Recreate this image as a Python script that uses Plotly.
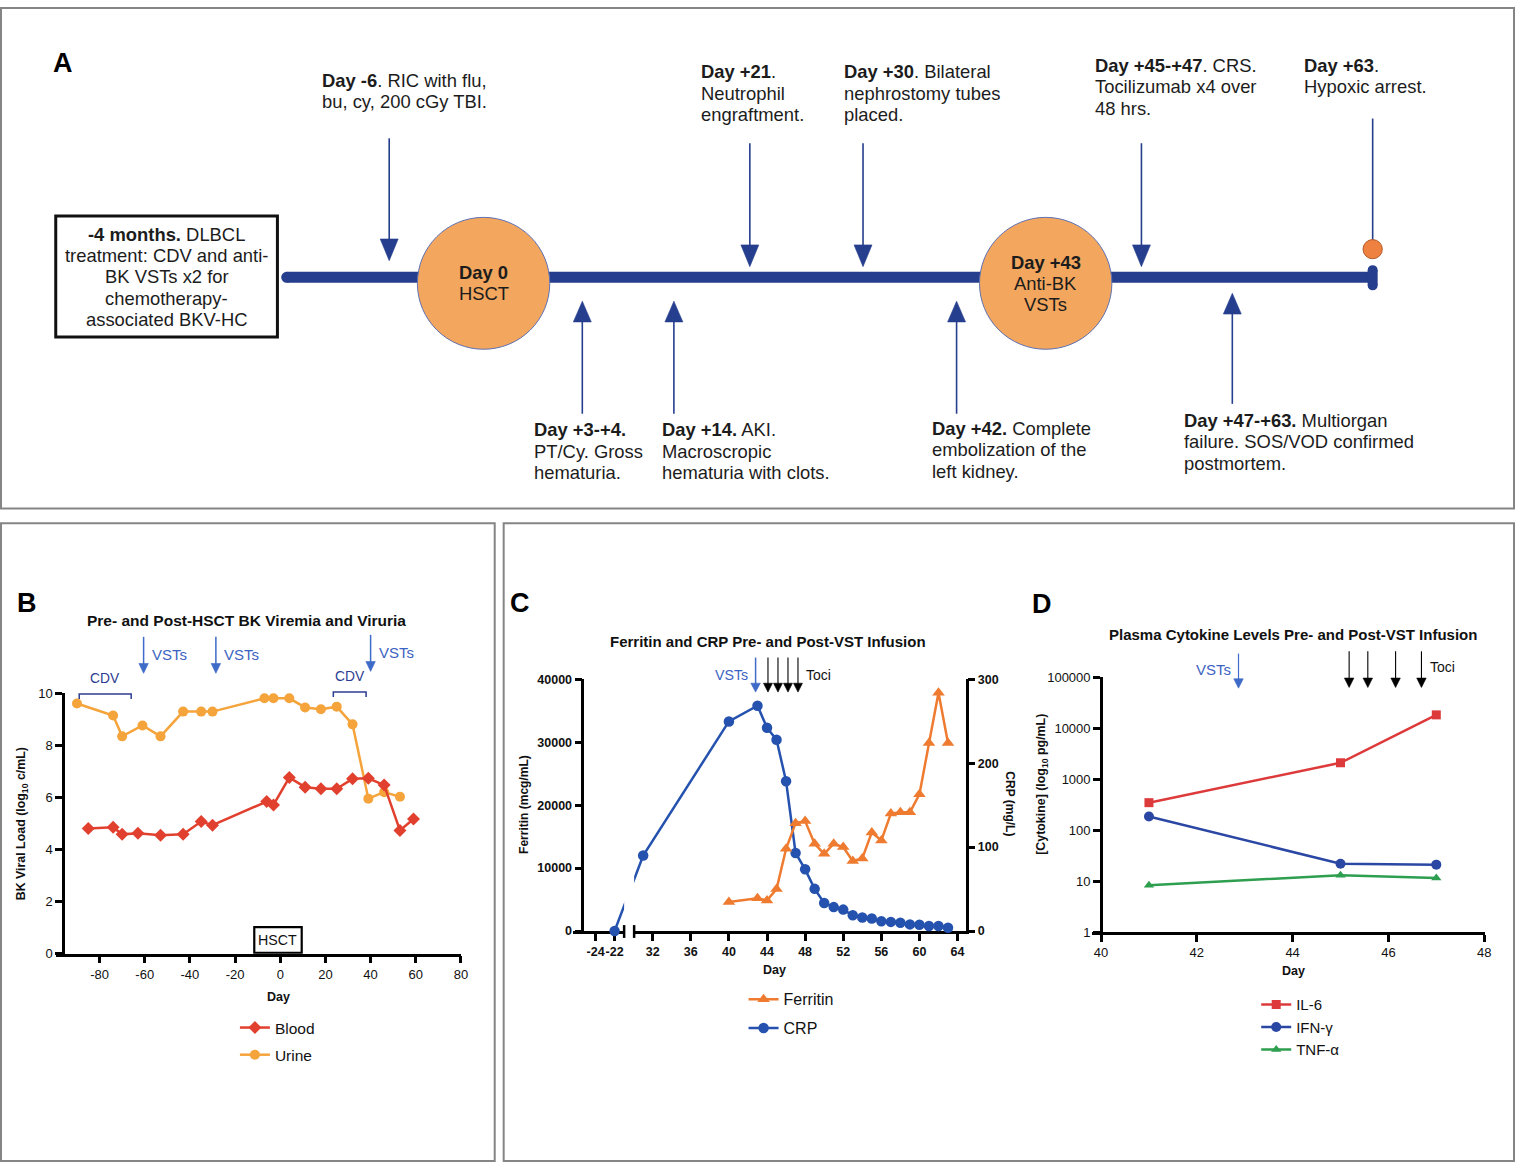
import plotly.graph_objects as go

W, H = 1524, 1171
FONT = "Liberation Sans, Arial, Helvetica, sans-serif"
NAVY = "#253e8d"
TXT = "#1c1c1c"

# ---------------- Panel B data: BK viral load (log10 c/mL) ----------------
b_urine_day = [-90, -74, -70, -61, -53, -43, -35, -30, -7, -3, 4, 11, 18, 25, 32, 39, 46, 53]
b_urine_log = [9.60, 9.14, 8.34, 8.76, 8.34, 9.29, 9.29, 9.29, 9.80, 9.80, 9.80, 9.45, 9.38, 9.48, 8.80, 5.95, 6.20, 6.02]
b_blood_day = [-85, -74, -70, -63, -53, -43, -35, -30, -6, -3, 4, 11, 18, 25, 32, 39, 46, 53, 59]
b_blood_log = [4.80, 4.85, 4.58, 4.62, 4.55, 4.58, 5.07, 4.93, 5.84, 5.71, 6.76, 6.39, 6.33, 6.33, 6.71, 6.73, 6.47, 4.73, 5.17]
b_vst_days = [-60.5, -28.5, 40]
b_cdv_ranges = [(-89, -66), (23.5, 38)]
b_hsct_range = (-11.5, 9.5)
b_xticks = [-80, -60, -40, -20, 0, 20, 40, 60, 80]
b_yticks = [0, 2, 4, 6, 8, 10]

# ---------------- Panel C data ----------------
c_blue_day = [-22, 31, 40, 43, 44, 45, 46, 47, 48, 49, 50, 51, 52, 53, 54, 55, 56, 57, 58, 59, 60, 61, 62, 63]
c_blue_val = [0, 12000, 33300, 35800, 32300, 30400, 23800, 12400, 9800, 6700, 4450, 3800, 3400, 2500,
              2150, 2000, 1550, 1450, 1300, 1050, 1000, 800, 800, 520]
c_orange_day = [40, 43, 44, 45, 46, 47, 48, 49, 50, 51, 52, 53, 54, 55, 56, 57, 58, 59, 60, 61, 62, 63]
c_orange_val = [34.5, 39, 36.5, 50, 98, 128.5, 131, 104, 92, 104, 100, 83.5, 86.5, 117.5, 108,
                140, 141.5, 141.5, 163, 224, 284, 224]
c_break_shift = 50          # days before the axis break are shifted onto the compressed segment
c_xticks_left = [-24, -22]
c_xticks_right = [32, 36, 40, 44, 48, 52, 56, 60, 64]
c_yticks_left = [0, 10000, 20000, 30000, 40000]
c_yticks_right = [0, 100, 200, 300]
c_vst_day = 42.8
c_toci_days = [44.1, 45.15, 46.2, 47.25]

# ---------------- Panel D data: plasma cytokines (pg/mL) ----------------
d_day = [41, 45, 47]
d_il6 = [346, 2100, 18300]
d_ifng = [185, 21.9, 21]
d_tnfa = [8.3, 13, 11.5]
d_vst_day = 42.87
d_toci_days = [45.18, 45.57, 46.15, 46.69]
d_yticks = [1, 10, 100, 1000, 10000, 100000]
d_xticks = [40, 42, 44, 46, 48]

# ---------------- Panel A text ----------------
a_box_lines = ["<b>-4 months.</b> DLBCL", "treatment: CDV and anti-", "BK VSTs x2 for",
               "chemotherapy-", "associated BKV-HC"]
a_circle_labels = [["<b>Day 0</b>", "HSCT"], ["<b>Day +43</b>", "Anti-BK", "VSTs"]]
a_top_events = [
    ["<b>Day -6</b>. RIC with flu,", "bu, cy, 200 cGy TBI."],
    ["<b>Day +21</b>.", "Neutrophil", "engraftment."],
    ["<b>Day +30</b>. Bilateral", "nephrostomy tubes", "placed."],
    ["<b>Day +45-+47</b>. CRS.", "Tocilizumab x4 over", "48 hrs."],
    ["<b>Day +63</b>.", "Hypoxic arrest."],
]
a_bottom_events = [
    ["<b>Day +3-+4.</b>", "PT/Cy. Gross", "hematuria."],
    ["<b>Day +14.</b> AKI.", "Macroscropic", "hematuria with clots."],
    ["<b>Day +42.</b> Complete", "embolization of the", "left kidney."],
    ["<b>Day +47-+63.</b> Multiorgan", "failure. SOS/VOD confirmed", "postmortem."],
]

# ---------------- layout geometry (pixels) ----------------
B_X, B_PX, B_PY, B_YAX = (-99.4, 80.1), (56, 463.3), (959, 695), 63.3
C_X, C_PX, C_PY, C_YAX = (23.67, 64.84), (576, 970), (936, 681), 585
D_X, D_PX, D_PY, D_YAX = (39.81, 48.02), (1097, 1492), (937, 679), 1106


def fx(x):
    return x / W


def fy(y):
    return 1 - y / H


def lin(v, dom, pix):
    return pix[0] + (v - dom[0]) / (dom[1] - dom[0]) * (pix[1] - pix[0])


shapes = []
annotations = []


def add_text(x, y, text, size, color=TXT, xanchor="left", yanchor="middle", angle=0):
    annotations.append(dict(x=fx(x), y=fy(y), xref="paper", yref="paper", text=text, showarrow=False,
                            xanchor=xanchor, yanchor=yanchor, textangle=angle,
                            font=dict(family=FONT, size=size, color=color)))


def add_line(x0, y0, x1, y1, color, width):
    shapes.append(dict(type="line", xref="paper", yref="paper", x0=fx(x0), y0=fy(y0), x1=fx(x1), y1=fy(y1),
                       line=dict(color=color, width=width)))


def add_poly(pts, color):
    path = "M " + " L ".join(f"{fx(x):.6f},{fy(y):.6f}" for x, y in pts) + " Z"
    shapes.append(dict(type="path", xref="paper", yref="paper", path=path, fillcolor=color,
                       line=dict(color=color, width=0.6)))


def add_rect(x0, y0, x1, y1, line_color, width, fill="rgba(0,0,0,0)"):
    shapes.append(dict(type="rect", xref="paper", yref="paper", x0=fx(x0), y0=fy(y1), x1=fx(x1), y1=fy(y0),
                       line=dict(color=line_color, width=width), fillcolor=fill))


def add_circle(cx, cy, rx, ry, fill, line_color, width):
    shapes.append(dict(type="circle", xref="paper", yref="paper", x0=fx(cx - rx), x1=fx(cx + rx),
                       y0=fy(cy + ry), y1=fy(cy - ry), fillcolor=fill,
                       line=dict(color=line_color, width=width)))


def arrow_down(x, y_top, y_tip, color, hw, hl, lw):
    add_line(x, y_top, x, y_tip - hl + 1, color, lw)
    add_poly([(x - hw / 2, y_tip - hl), (x + hw / 2, y_tip - hl), (x, y_tip)], color)


def arrow_up(x, y_tip, y_bot, color, hw, hl, lw):
    add_line(x, y_tip + hl - 1, x, y_bot, color, lw)
    add_poly([(x - hw / 2, y_tip + hl), (x + hw / 2, y_tip + hl), (x, y_tip)], color)


# ---------------- panel frames ----------------
add_rect(1, 1, 1521, 508, "#858585", 2)
add_rect(1, 523, 497, 1169, "#858585", 2)
add_rect(506, 523, 1521, 1169, "#858585", 2)

# ---------------- Panel A ----------------
add_text(63, 57, "<b>A</b>", 27, "#000000", xanchor="center")
add_line(288, 273.8, 1379, 273.8, NAVY, 11)
add_circle(288, 273.8, 5.5, 5.5, NAVY, NAVY, 0)
add_line(1379, 266.5, 1379, 282, NAVY, 10)
add_circle(1379, 266.5, 5, 5, NAVY, NAVY, 0)
add_circle(1379, 282, 5, 5, NAVY, NAVY, 0)

circle_centers = [(485.8, 279.9), (1050.5, 279.9)]
for (cx, cy), lines in zip(circle_centers, a_circle_labels):
    add_circle(cx, cy, 66.5, 66.8, "#F2A65E", "#5f71b4", 1)
    n = len(lines)
    for i, t in enumerate(lines):
        add_text(cx, cy + (i - (n - 1) / 2) * 21.5, t, 18.4, xanchor="center")

add_rect(56, 211.7, 278.7, 334.3, "#111111", 3, "#ffffff")
for i, t in enumerate(a_box_lines):
    add_text(167.5, 230 + i * 21.7, t, 18.4, xanchor="center")

top_text_pos = [(321, 74), (702.7, 65.7), (845.7, 65.7), (1097.7, 59), (1307.7, 59)]
for (x, y0), lines in zip(top_text_pos, a_top_events):
    for i, t in enumerate(lines):
        add_text(x, y0 + i * 21.7, t, 18.4)
top_arrows = [(391, 133, 257), (753.3, 138, 263), (867, 138, 263), (1146.7, 138, 263)]
for x, yt, ytip in top_arrows:
    arrow_down(x, yt, ytip, NAVY, 18, 22, 1.6)
add_line(1379, 113, 1379, 236, NAVY, 1.6)
add_circle(1379, 245.3, 9.7, 9.7, "#EE8040", "#b35c2a", 1)

bottom_text_pos = [(534.3, 428.3), (663.3, 428.3), (934.3, 426.7), (1187.3, 418.7)]
for (x, y0), lines in zip(bottom_text_pos, a_bottom_events):
    for i, t in enumerate(lines):
        add_text(x, y0 + i * 21.7, t, 18.4)
bottom_arrows = [(585, 298, 412), (677, 298, 412), (961, 298, 412), (1238, 290, 402)]
for x, ytip, yb in bottom_arrows:
    arrow_up(x, ytip, yb, NAVY, 18, 21, 1.6)

# ---------------- Panel B decorations ----------------
BLUE_ARR = "#3e6ac8"
add_text(27, 604, "<b>B</b>", 27, "#000000", xanchor="center")
add_text(247.5, 621, "<b>Pre- and Post-HSCT BK Viremia and Viruria</b>", 15.5, "#111111", xanchor="center")
for i, d in enumerate(b_vst_days):
    x = lin(d, B_X, B_PX)
    top, tip = (638, 675) if i < 2 else (636, 673)
    arrow_down(x, top, tip, BLUE_ARR, 9.5, 10, 1.5)
    add_text(x + 6.5, tip - 19.5, "VSTs", 15, "#3d63c2")
for (d0, d1), ylab, ybr in zip(b_cdv_ranges, [680, 678], [696, 694]):
    x0, x1 = lin(d0, B_X, B_PX), lin(d1, B_X, B_PX)
    shapes.append(dict(type="path", xref="paper", yref="paper",
                       path=f"M {fx(x0)},{fy(ybr + 5)} L {fx(x0)},{fy(ybr)} L {fx(x1)},{fy(ybr)} L {fx(x1)},{fy(ybr + 5)}",
                       line=dict(color="#2c3d91", width=1.5)))
    add_text((x0 + x1) / 2, ylab, "CDV", 13.8, "#2c3d91", xanchor="center")
hx0, hx1 = lin(b_hsct_range[0], B_X, B_PX), lin(b_hsct_range[1], B_X, B_PX)
add_rect(hx0, 932, hx1, 958, "#000000", 2.2, "#ffffff")
add_text((hx0 + hx1) / 2, 945.5, "HSCT", 14.2, "#111111", xanchor="center")
add_text(23, 827, "<b>BK Viral Load (log<sub>10</sub> c/mL)</b>", 12.4, "#111111", xanchor="center", angle=-90)
add_text(280, 1003, "<b>Day</b>", 12.5, "#111111", xanchor="center")

# ---------------- Panel C decorations ----------------
add_text(522, 604, "<b>C</b>", 27, "#000000", xanchor="center")
add_text(772, 642.5, "<b>Ferritin and CRP Pre- and Post-VST Infusion</b>", 15, "#111111", xanchor="center")
xv = lin(c_vst_day, C_X, C_PX)
arrow_down(xv, 659, 694, BLUE_ARR, 9.5, 9, 1.5)
add_text(xv - 6, 676.5, "VSTs", 14.2, "#3d63c2", xanchor="right")
for d in c_toci_days:
    arrow_down(lin(d, C_X, C_PX), 659, 694, "#000000", 9, 9, 1.1)
add_text(lin(c_toci_days[-1], C_X, C_PX) + 6.5, 676.5, "Toci", 14, "#111111")
add_text(525.7, 808, "<b>Ferritin (mcg/mL)</b>", 12, "#111111", xanchor="center", angle=-90)
add_text(1015, 807, "<b>CRP (mg/L)</b>", 12, "#111111", xanchor="center", angle=90)
add_text(778.3, 975, "<b>Day</b>", 12.5, "#111111", xanchor="center")
# axis break
bx0 = lin(29.0, C_X, C_PX)
bx1 = lin(30.05, C_X, C_PX)
add_rect(bx0, 860, bx1, 946, "rgba(0,0,0,0)", 0, "#ffffff")
add_line(bx0, 930, bx0, 943, "#000000", 2.5)
add_line(bx1, 930, bx1, 943, "#000000", 2.5)

# ---------------- Panel D decorations ----------------
add_text(1046.7, 605, "<b>D</b>", 27, "#000000", xanchor="center")
add_text(1299, 635.5, "<b>Plasma Cytokine Levels Pre- and Post-VST Infusion</b>", 15, "#111111", xanchor="center")
xv = lin(d_vst_day, D_X, D_PX)
arrow_down(xv, 655, 690, BLUE_ARR, 9.5, 9.5, 1.2)
add_text(xv - 6, 671.5, "VSTs", 15, "#3d63c2", xanchor="right")
for d in d_toci_days:
    arrow_down(lin(d, D_X, D_PX), 652.7, 689.3, "#000000", 9.5, 9.5, 1.1)
add_text(lin(d_toci_days[-1], D_X, D_PX) + 7, 669, "Toci", 14, "#111111")
add_text(1046.7, 787, "<b>[Cytokine] (log<sub>10</sub> pg/mL)</b>", 12.4, "#111111", xanchor="center", angle=-90)
add_text(1299, 976.7, "<b>Day</b>", 12.5, "#111111", xanchor="center")

# ---------------- traces ----------------
ORANGE_B, RED_B = "#F5A33B", "#E2402F"
ORANGE_C, BLUE_C = "#EE7B30", "#2452AE"
RED_D, BLUE_D, GREEN_D = "#DD3B3B", "#2A47A3", "#2E9E4F"

fig = go.Figure()
fig.add_trace(go.Scatter(x=b_urine_day, y=b_urine_log, mode="lines+markers", name="Urine",
                         line=dict(color=ORANGE_B, width=2.5), marker=dict(symbol="circle", size=10, color=ORANGE_B),
                         xaxis="x", yaxis="y", legend="legend", legendrank=2, legendgroup="u", cliponaxis=False))
fig.add_trace(go.Scatter(x=b_blood_day, y=b_blood_log, mode="lines+markers", name="Blood",
                         line=dict(color=RED_B, width=2.5), marker=dict(symbol="diamond", size=10, color=RED_B),
                         xaxis="x", yaxis="y", legend="legend", legendrank=1, legendgroup="b", cliponaxis=False))

c_blue_x = [d + c_break_shift if d < 0 else d for d in c_blue_day]
fig.add_trace(go.Scatter(x=c_orange_day, y=c_orange_val, mode="lines+markers", name="Ferritin",
                         line=dict(color=ORANGE_C, width=2.5), marker=dict(symbol="triangle-up", size=11, color=ORANGE_C),
                         xaxis="x2", yaxis="y3", legend="legend2", legendrank=1, legendgroup="f", cliponaxis=False))
fig.add_trace(go.Scatter(x=c_blue_x, y=c_blue_val, mode="lines+markers", name="CRP",
                         line=dict(color=BLUE_C, width=2.5), marker=dict(symbol="circle", size=10.5, color=BLUE_C),
                         xaxis="x2", yaxis="y2", legend="legend2", legendrank=2, legendgroup="c", cliponaxis=False))

fig.add_trace(go.Scatter(x=d_day, y=d_il6, mode="lines+markers", name="IL-6",
                         line=dict(color=RED_D, width=2.5), marker=dict(symbol="square", size=9, color=RED_D),
                         xaxis="x3", yaxis="y4", legend="legend3", cliponaxis=False))
fig.add_trace(go.Scatter(x=d_day, y=d_ifng, mode="lines+markers", name="IFN-γ",
                         line=dict(color=BLUE_D, width=2.5), marker=dict(symbol="circle", size=10, color=BLUE_D),
                         xaxis="x3", yaxis="y4", legend="legend3", cliponaxis=False))
fig.add_trace(go.Scatter(x=d_day, y=d_tnfa, mode="lines+markers", name="TNF-α",
                         line=dict(color=GREEN_D, width=2.5), marker=dict(symbol="triangle-up", size=9, color=GREEN_D),
                         xaxis="x3", yaxis="y4", legend="legend3", cliponaxis=False))

axis_common = dict(showline=True, linecolor="#000000", linewidth=2.5, ticks="outside", ticklen=7,
                   tickwidth=2.5, tickcolor="#000000", showgrid=False, zeroline=False, fixedrange=True,
                   tickangle=0)
tf_reg = dict(family=FONT, size=13, color="#111111")
tf_bold = dict(family=FONT, size=12.5, color="#111111", weight="bold")

c_tickvals = [t + c_break_shift for t in c_xticks_left] + c_xticks_right
c_ticktext = [str(t) for t in c_xticks_left + c_xticks_right]

fig.update_layout(
    width=W, height=H, margin=dict(l=0, r=0, t=0, b=0),
    paper_bgcolor="#ffffff", plot_bgcolor="rgba(0,0,0,0)",
    font=dict(family=FONT, color="#111111"),
    showlegend=True,
    xaxis=dict(domain=[fx(B_PX[0]), fx(B_PX[1])], range=list(B_X), anchor="y",
               tickvals=b_xticks, ticktext=[str(t) for t in b_xticks], tickfont=tf_reg, **axis_common),
    yaxis=dict(domain=[fy(B_PY[0]), fy(B_PY[1])], range=[0, 10], anchor="free", position=fx(B_YAX),
               tickvals=b_yticks, ticktext=[str(t) for t in b_yticks], tickfont=tf_reg, **axis_common),
    xaxis2=dict(domain=[fx(C_PX[0]), fx(C_PX[1])], range=list(C_X), anchor="y2",
                tickvals=c_tickvals, ticktext=c_ticktext, tickfont=tf_bold, layer="below traces", **axis_common),
    yaxis2=dict(domain=[fy(C_PY[0]), fy(C_PY[1])], range=[0, 40000], anchor="free", position=fx(C_YAX),
                tickvals=c_yticks_left, ticktext=[str(t) for t in c_yticks_left], tickfont=tf_bold,
                layer="below traces", **axis_common),
    yaxis3=dict(overlaying="y2", side="right", anchor="x2", range=[0, 300],
                tickvals=c_yticks_right, ticktext=[str(t) for t in c_yticks_right], tickfont=tf_bold,
                layer="below traces", **axis_common),
    xaxis3=dict(domain=[fx(D_PX[0]), fx(D_PX[1])], range=list(D_X), anchor="y4",
                tickvals=d_xticks, ticktext=[str(t) for t in d_xticks], tickfont=tf_reg, **axis_common),
    yaxis4=dict(domain=[fy(D_PY[0]), fy(D_PY[1])], type="log", range=[0, 5], anchor="free", position=fx(D_YAX),
                tickvals=d_yticks, ticktext=[str(t) for t in d_yticks], tickfont=tf_reg, **axis_common),
    legend=dict(x=fx(236), y=fy(1017), xanchor="left", yanchor="top", bgcolor="rgba(0,0,0,0)",
                font=dict(family=FONT, size=15.5, color="#111111"), tracegroupgap=4),
    legend2=dict(x=fx(747), y=fy(988), xanchor="left", yanchor="top", bgcolor="rgba(0,0,0,0)",
                 font=dict(family=FONT, size=16, color="#111111"), tracegroupgap=5),
    legend3=dict(x=fx(1262), y=fy(994), xanchor="left", yanchor="top", bgcolor="rgba(0,0,0,0)",
                 font=dict(family=FONT, size=15, color="#111111")),
    shapes=shapes, annotations=annotations,
)

page_fix = (
    "document.documentElement.style.margin='0px';document.documentElement.style.padding='0px';"
    "document.documentElement.style.overflow='hidden';"
    "document.body.style.margin='0px';document.body.style.padding='0px';document.body.style.overflow='hidden';"
    "var g=document.getElementById('{plot_id}');g.style.position='absolute';g.style.left='0px';g.style.top='0px';"
)
fig.write_html("out.html", config={"displayModeBar": False}, post_script=page_fix)
